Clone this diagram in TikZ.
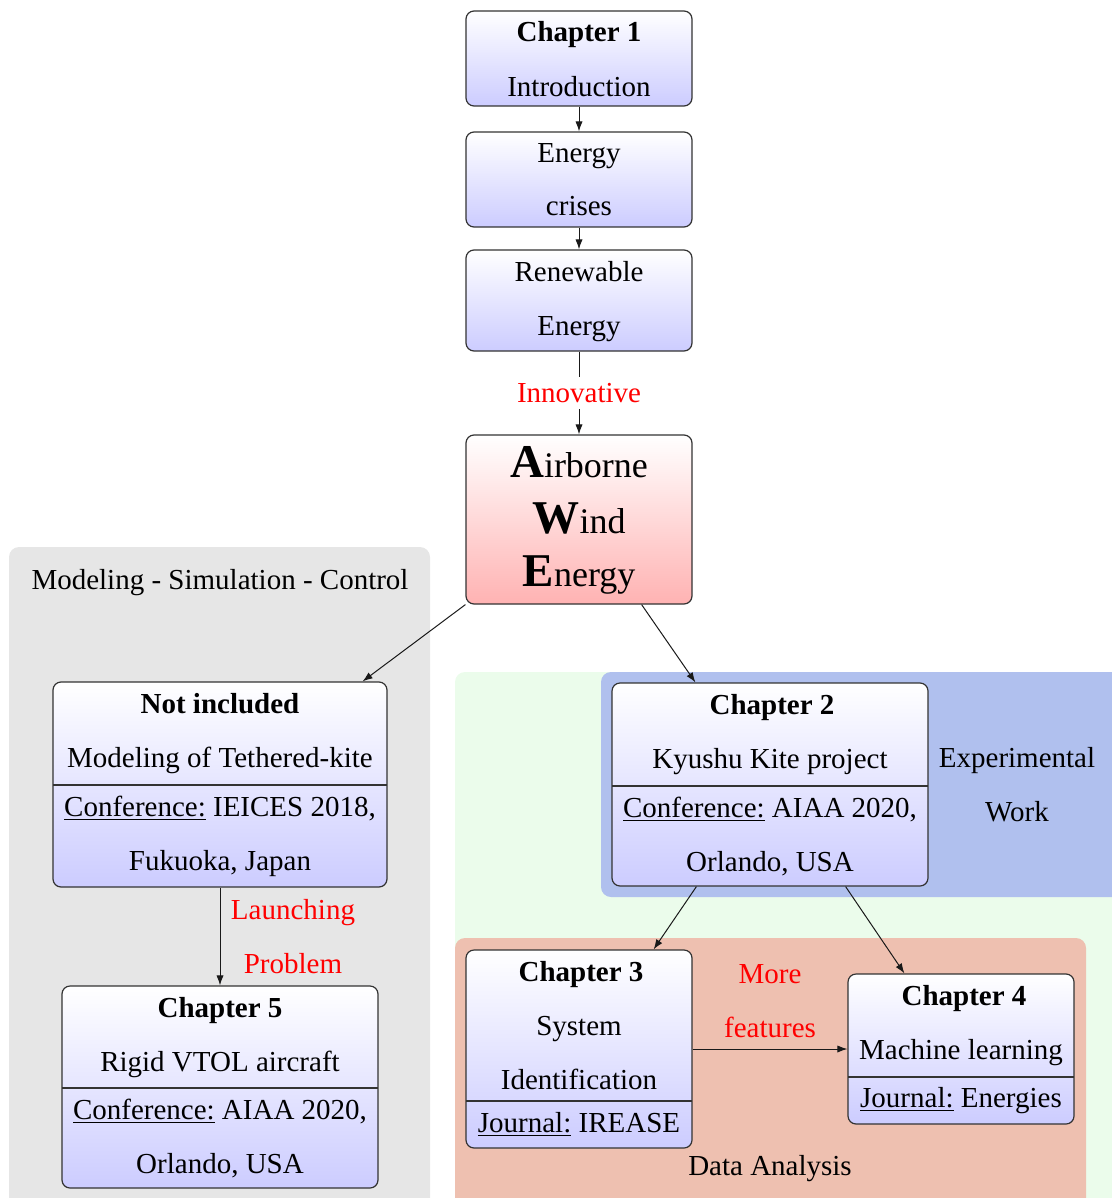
\documentclass[tikz,border=0pt]{standalone}
\usepackage{fontspec}
\setmainfont{Liberation Serif}
\usetikzlibrary{arrows.meta,fit}
\definecolor{regGray}{RGB}{230,230,230}
\definecolor{regGreen}{RGB}{235,252,235}
\definecolor{regBlue}{RGB}{176,192,238}
\definecolor{regOrange}{RGB}{238,192,176}
\newcommand{\awebig}[1]{{\fontsize{23.5}{23.5}\selectfont\bfseries #1}}
\newcommand{\awesm}[1]{{\fontsize{18}{20}\selectfont #1}}
\begin{document}
\begin{tikzpicture}[x=0.5pt,y=-0.5pt,
  every node/.style={font=\fontsize{14.5}{17}\selectfont},
  txt/.style={anchor=base, inner sep=0pt},
  lbl/.style={txt, text=red},
  bx/.style={draw=black!80, line width=0.6pt, rounded corners=4pt, top color=white, bottom color=blue!20, inner sep=0pt},
  awebx/.style={bx, bottom color=red!30},
  divl/.style={draw=black!80, line width=0.6pt},
  arr/.style={draw=black!90, line width=0.5pt, -{Latex[length=5pt,width=3.6pt]}},
  region/.style={rounded corners=5pt}]
\clip (0,0) rectangle (1112,1198);
% background regions
\fill[regGray, region] (9,547) rectangle (430,1230);
\fill[regGreen, region] (455,672) rectangle (1140,1230);
\fill[regBlue, region] (601,672) rectangle (1140,897);
\fill[regOrange, region] (455,938) rectangle (1086,1230);
% boxes
\node[bx, fit={(466,11)(692,106)}] (ch1) {};
\node[bx, fit={(466,132)(692,227)}] (ec) {};
\node[bx, fit={(466,250)(692,351)}] (re) {};
\node[awebx, fit={(466,435)(692,604)}] (awe) {};
\node[bx, fit={(53,682)(387,887)}] (ni) {};
\node[bx, fit={(62,986)(378,1188)}] (ch5) {};
\node[bx, fit={(612,683)(928,886)}] (ch2) {};
\node[bx, fit={(466,950)(692,1148)}] (ch3) {};
\node[bx, fit={(848,974)(1074,1124)}] (ch4) {};
% dividers
\draw[divl] (53,785) -- (387,785);
\draw[divl] (62,1088) -- (378,1088);
\draw[divl] (612,786) -- (928,786);
\draw[divl] (466,1101) -- (692,1101);
\draw[divl] (848,1077) -- (1074,1077);
% texts
\node[txt] (ch1a) at (579,42) {\textbf{Chapter 1}};
\node[txt] (ch1b) at (579,97) {Introduction};
\node[txt] (eca) at (579,163) {Energy};
\node[txt] (ecb) at (579,216) {crises};
\node[txt] (rea) at (579,281) {Renewable};
\node[txt] (reb) at (579,335) {Energy};
\node[txt] (awea) at (579,477) {\awebig{A}\awesm{irborne}};
\node[txt] (aweb) at (579,533) {\awebig{W}\awesm{ind}};
\node[txt] (awec) at (579,586) {\awebig{E}\awesm{nergy}};
\node[txt] (msc) at (220,589) {Modeling - Simulation - Control};
\node[txt] (nia) at (220,713) {\textbf{Not included}};
\node[txt] (nib) at (220,767) {Modeling of Tethered-kite};
\node[txt] (nic) at (220,816) {\underline{Conference:} IEICES 2018,};
\node[txt] (nid) at (220,870) {Fukuoka, Japan};
\node[txt] (ch5a) at (220,1017) {\textbf{Chapter 5}};
\node[txt] (ch5b) at (220,1071) {Rigid VTOL aircraft};
\node[txt] (ch5c) at (220,1119) {\underline{Conference:} AIAA 2020,};
\node[txt] (ch5d) at (220,1173) {Orlando, USA};
\node[lbl] (lpa) at (293,919) {Launching};
\node[lbl] (lpb) at (293,973) {Problem};
\node[txt] (ch2a) at (772,714) {\textbf{Chapter 2}};
\node[txt] (ch2b) at (770,768) {Kyushu Kite project};
\node[txt] (ch2c) at (770,817) {\underline{Conference:} AIAA 2020,};
\node[txt] (ch2d) at (770,871) {Orlando, USA};
\node[txt] (ewa) at (1017,767) {Experimental};
\node[txt] (ewb) at (1017,821) {Work};
\node[txt] (ch3a) at (581,981) {\textbf{Chapter 3}};
\node[txt] (ch3b) at (579,1035) {System};
\node[txt] (ch3c) at (579,1089) {Identification};
\node[txt] (ch3d) at (579,1132) {\underline{Journal:} IREASE};
\node[txt] (ch4a) at (964,1005) {\textbf{Chapter 4}};
\node[txt] (ch4b) at (961,1059) {Machine learning};
\node[txt] (ch4c) at (961,1107) {\underline{Journal:} Energies};
\node[lbl] (mfa) at (770,983) {More};
\node[lbl] (mfb) at (770,1037) {features};
\node[txt] (da) at (770,1175) {Data Analysis};
% connectors
\draw[arr] (ch1) -- (ec);
\draw[arr] (ec) -- (re);
\draw[arr] (re) -- node[fill=white, inner sep=3pt, text=red] (inn) {Innovative} (awe);
\draw[arr] (awe.south west) -- ([xshift=-12.5pt]ni.north east);
\draw[arr] ([xshift=-25.5pt]awe.south east) -- ([xshift=42pt]ch2.north west);
\draw[arr] ([xshift=42.5pt]ch2.south west) -- ([xshift=-19.5pt]ch3.north east);
\draw[arr] ([xshift=-41.5pt]ch2.south east) -- ([xshift=28.5pt]ch4.north west);
\draw[arr] (ni) -- (ch5);
\draw[arr] (ch3) -- (ch4);
\end{tikzpicture}
\end{document}
